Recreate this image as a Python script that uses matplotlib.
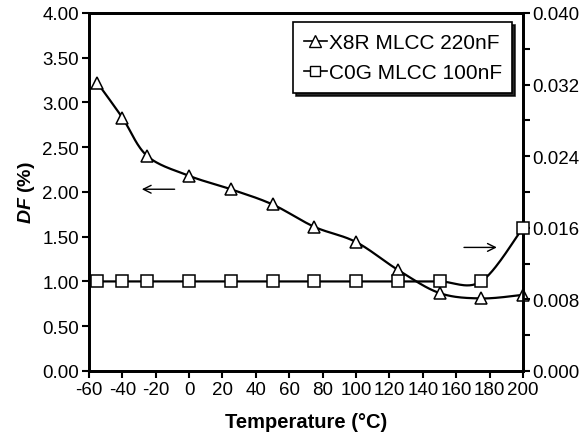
import numpy as np
import matplotlib
matplotlib.use("Agg")
import matplotlib.pyplot as plt
from matplotlib.lines import Line2D

plt.rcParams['font.family'] = ['Liberation Sans', 'DejaVu Sans']
plt.rcParams['mathtext.fontset'] = 'custom'
plt.rcParams['mathtext.rm'] = 'Liberation Sans'
plt.rcParams['mathtext.bf'] = 'Liberation Sans:bold'
plt.rcParams['mathtext.it'] = 'Liberation Sans:italic'
plt.rcParams['mathtext.bfit'] = 'Liberation Sans:bold:italic'

temperature = [-55, -40, -25, 0, 25, 50, 75, 100, 125, 150, 175, 200]
df_x8r = [3.22, 2.83, 2.40, 2.18, 2.03, 1.86, 1.61, 1.44, 1.13, 0.87, 0.81, 0.85]
df_c0g = [0.010, 0.010, 0.010, 0.010, 0.010, 0.010, 0.010, 0.010, 0.010, 0.010, 0.010, 0.016]

x_ticks = [-60, -40, -20, 0, 20, 40, 60, 80, 100, 120, 140, 160, 180, 200]
left_ticks = [0.0, 0.5, 1.0, 1.5, 2.0, 2.5, 3.0, 3.5, 4.0]
right_ticks = [0.000, 0.008, 0.016, 0.024, 0.032, 0.040]


def smooth(x, y, n=30):
    """Catmull-Rom style smoothing through every point (spreadsheet-like smoothed line)."""
    x = np.asarray(x, float)
    y = np.asarray(y, float)
    px = np.concatenate([[x[0]], x, [x[-1]]])
    py = np.concatenate([[y[0]], y, [y[-1]]])
    xs, ys = [], []
    t = np.linspace(0, 1, n)
    for i in range(1, len(px) - 2):
        p0, p1, p2, p3 = px[i - 1], px[i], px[i + 1], px[i + 2]
        q0, q1, q2, q3 = py[i - 1], py[i], py[i + 1], py[i + 2]
        c1x, c1y = p1 + (p2 - p0) / 6, q1 + (q2 - q0) / 6
        c2x, c2y = p2 - (p3 - p1) / 6, q2 - (q3 - q1) / 6
        bx = (1 - t) ** 3 * p1 + 3 * (1 - t) ** 2 * t * c1x + 3 * (1 - t) * t ** 2 * c2x + t ** 3 * p2
        by = (1 - t) ** 3 * q1 + 3 * (1 - t) ** 2 * t * c1y + 3 * (1 - t) * t ** 2 * c2y + t ** 3 * q2
        xs.append(bx)
        ys.append(by)
    return np.concatenate(xs), np.concatenate(ys)


fig = plt.figure(figsize=(5.85, 4.35), dpi=100)
ax = fig.add_axes([0.152, 0.145, 0.742, 0.823])
ax2 = ax.twinx()

lw = 1.6
sx, sy = smooth(temperature, df_x8r)
ax.plot(sx, sy, color='black', lw=lw, zorder=2)
ax.plot(temperature, df_x8r, linestyle='none', marker='^', markersize=9,
        markerfacecolor='white', markeredgecolor='black', markeredgewidth=1.1,
        zorder=3, clip_on=False)

cx, cy = smooth(temperature, df_c0g)
ax2.plot(cx, cy, color='black', lw=lw, zorder=2)
ax2.plot(temperature, df_c0g, linestyle='none', marker='s', markersize=8.5,
         markerfacecolor='white', markeredgecolor='black', markeredgewidth=1.1,
         zorder=3, clip_on=False)

ax.set_xlim(-60, 200)
ax.set_ylim(0, 4.0)
ax2.set_ylim(0, 0.040)

ax.set_xticks(x_ticks)
ax.set_xticklabels([str(v) for v in x_ticks])
ax.set_yticks(left_ticks)
ax.set_yticklabels([f"{v:.2f}" for v in left_ticks])
ax2.set_yticks(right_ticks)
ax2.set_yticklabels([f"{v:.3f}" for v in right_ticks])
ax2.set_yticks([0.004, 0.012, 0.020, 0.028, 0.036], minor=True)

for a in (ax, ax2):
    for s in a.spines.values():
        s.set_linewidth(2.0)
    a.tick_params(axis='both', which='major', direction='out', length=5, width=1.5,
                  labelsize=13.5, colors='black', pad=2)
    a.tick_params(axis='y', which='minor', direction='out', length=5, width=1.5)

ax.set_xlabel('Temperature (°C)', fontsize=14.5, fontweight='bold', labelpad=10)
ax.set_ylabel(r'$\mathbfit{DF}$ $\mathbf{(\%)}$', fontsize=14, labelpad=4)

# direction arrows pointing to each axis
ax.annotate('', xy=(-30, 2.03), xytext=(-7, 2.03),
            arrowprops=dict(arrowstyle='->', color='black', lw=1.0, mutation_scale=14))
ax.annotate('', xy=(186, 1.38), xytext=(163, 1.38),
            arrowprops=dict(arrowstyle='->', color='black', lw=1.0, mutation_scale=14))

handles = [
    Line2D([], [], color='black', lw=1.2, marker='^', markersize=8,
           markerfacecolor='white', markeredgecolor='black'),
    Line2D([], [], color='black', lw=1.2, marker='s', markersize=7,
           markerfacecolor='white', markeredgecolor='black'),
]
leg = ax.legend(handles, ['X8R MLCC 220nF', 'C0G MLCC 100nF'], loc='upper right',
                bbox_to_anchor=(0.985, 0.985), fontsize=15, frameon=True, fancybox=False,
                shadow={'color': 'black', 'alpha': 0.85}, handlelength=1.1,
                handletextpad=0.1, borderpad=0.5, labelspacing=0.55,
                edgecolor='black', borderaxespad=0.2)
leg.get_frame().set_linewidth(1.2)
leg.set_zorder(5)

fig.savefig('out.png', dpi=100, facecolor='white')
